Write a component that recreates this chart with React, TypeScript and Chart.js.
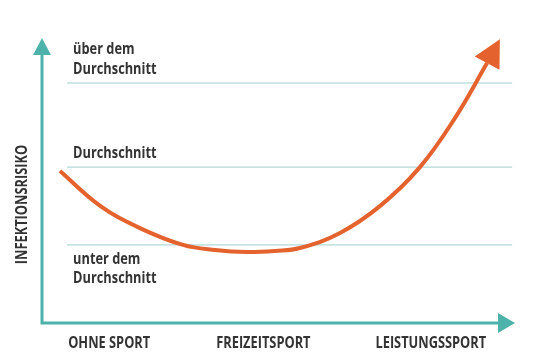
import React, { useEffect, useRef } from "react";
import { Chart, registerables } from "chart.js";

Chart.register(...registerables);

// Curve: infection risk (0..10) vs. sport intensity (0..10)
const curveX = [0.38, 1.23, 2.07, 2.98, 3.66, 4.33, 4.93, 5.45, 6.3, 7.15, 7.99, 8.73, 9.41];
const curveY = [5.33, 4.11, 3.33, 2.74, 2.56, 2.49, 2.53, 2.63, 3.16, 4.11, 5.47, 7.19, 9.12];
const arrowTip = { x: 9.68, y: 9.96 };

// Reference levels
const levelValues = [8.42, 5.47, 2.74];
const levelStartX = 0.53;
const levelEndX = 9.94;
const levelLabels = [["über dem", "Durchschnitt"], ["Durchschnitt"], ["unter dem", "Durchschnitt"]];

// Categories on x axis
const categoryLabels = ["OHNE SPORT", "FREIZEITSPORT", "LEISTUNGSSPORT"];
const categoryPositions = [1.42, 4.68, 8.22];
const yTitle = "INFEKTIONSRISIKO";

const TEAL = "#4db3aa";
const GRID = "#9dd1cb";
const ORANGE = "#e4622d";
const TEXT = "#333333";
const FONT = '"Open Sans", "DejaVu Sans Condensed", sans-serif';
const CONDENSE = 0.8;

function condensedText(ctx: CanvasRenderingContext2D, t: string, x: number, y: number, align: CanvasTextAlign) {
  ctx.save();
  ctx.translate(x, y);
  ctx.scale(CONDENSE, 1);
  ctx.textAlign = align;
  ctx.fillText(t, 0, 0);
  ctx.restore();
}

const decorPlugin = {
  id: "decor",
  afterDatasetsDraw(chart: any) {
    const { ctx, chartArea, scales } = chart;
    const xs = scales.x;
    const ys = scales.y;
    ctx.save();

    // Orange arrow head
    const meta = chart.getDatasetMeta(0);
    const last = meta.data[meta.data.length - 1];
    const tx = xs.getPixelForValue(arrowTip.x);
    const ty = ys.getPixelForValue(arrowTip.y);
    const bx = last.x;
    const by = last.y;
    const dx = tx - bx;
    const dy = ty - by;
    const len = Math.hypot(dx, dy);
    const nx = -dy / len;
    const ny = dx / len;
    const hw = 14;
    ctx.fillStyle = ORANGE;
    ctx.beginPath();
    ctx.moveTo(tx, ty);
    ctx.lineTo(bx + nx * hw, by + ny * hw);
    ctx.lineTo(bx - nx * hw, by - ny * hw);
    ctx.closePath();
    ctx.fill();

    // Axes with arrows
    const left = chartArea.left;
    const bottom = chartArea.bottom;
    const top = chartArea.top;
    const right = chartArea.right;
    ctx.strokeStyle = TEAL;
    ctx.fillStyle = TEAL;
    ctx.lineWidth = 3;
    ctx.beginPath();
    ctx.moveTo(left, top + 10);
    ctx.lineTo(left, bottom);
    ctx.lineTo(right - 10, bottom);
    ctx.stroke();
    ctx.beginPath();
    ctx.moveTo(left, top);
    ctx.lineTo(left - 9, top + 17);
    ctx.lineTo(left + 9, top + 17);
    ctx.closePath();
    ctx.fill();
    ctx.beginPath();
    ctx.moveTo(right, bottom);
    ctx.lineTo(right - 17, bottom - 10);
    ctx.lineTo(right - 17, bottom + 10);
    ctx.closePath();
    ctx.fill();

    // Level labels
    ctx.fillStyle = TEXT;
    ctx.font = "bold 16px " + FONT;
    ctx.textBaseline = "middle";
    const lx = xs.getPixelForValue(levelStartX) + 6;
    levelLabels.forEach((lines, i) => {
      const ly = ys.getPixelForValue(levelValues[i]);
      const below = i === levelLabels.length - 1;
      lines.forEach((t, j) => {
        const y = below ? ly + 15 + j * 19 : ly - 14 - (lines.length - 1 - j) * 20;
        condensedText(ctx, t, lx, y, "left");
      });
    });

    // Category labels
    categoryLabels.forEach((t, i) => {
      condensedText(ctx, t, xs.getPixelForValue(categoryPositions[i]), bottom + 20, "center");
    });

    // Y title
    ctx.translate(22, (top + bottom) / 2 + 24);
    ctx.rotate(-Math.PI / 2);
    condensedText(ctx, yTitle, 0, 0, "center");
    ctx.restore();
  },
};

export default function App() {
  const ref = useRef<HTMLCanvasElement | null>(null);
  useEffect(() => {
    if (!ref.current) return;
    const levelSets = levelValues.map((v) => ({
      data: [
        { x: levelStartX, y: v },
        { x: levelEndX, y: v },
      ],
      borderColor: GRID,
      borderWidth: 1,
      pointRadius: 0,
      tension: 0,
      clip: false,
      order: 1,
    }));
    const chart = new Chart(ref.current, {
      type: "line",
      data: {
        datasets: [
          {
            data: curveX.map((x, i) => ({ x, y: curveY[i] })),
            borderColor: ORANGE,
            borderWidth: 4,
            pointRadius: 0,
            tension: 0.4,
            clip: false,
            order: 0,
          } as any,
          ...levelSets,
        ],
      },
      options: {
        animation: false,
        responsive: false,
        layout: { padding: { left: 42, right: 25, top: 38, bottom: 37 } },
        plugins: { legend: { display: false }, tooltip: { enabled: false } },
        scales: {
          x: { type: "linear", min: 0, max: 10, display: false },
          y: { type: "linear", min: 0, max: 10, display: false },
        },
      },
      plugins: [decorPlugin],
    });
    return () => chart.destroy();
  }, []);
  return (
    <div style={{ position: "fixed", left: 0, top: 0, width: 540, height: 360, background: "#fff" }}>
      <canvas ref={ref} width={540} height={360} />
    </div>
  );
}
